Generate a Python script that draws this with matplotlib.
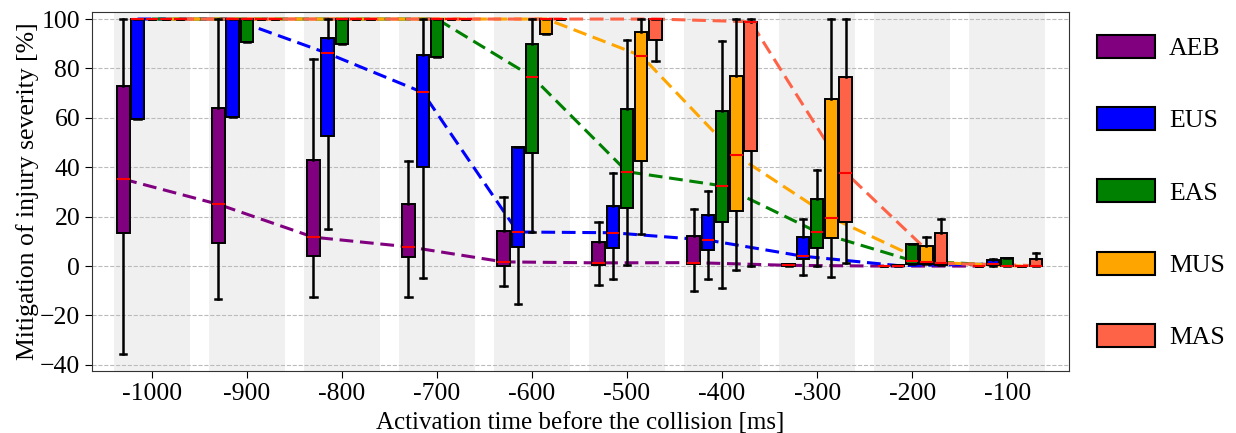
import matplotlib

matplotlib.use("Agg")
import matplotlib.pyplot as plt
from matplotlib.patches import Patch

plt.rcParams["font.family"] = ["Liberation Serif", "DejaVu Serif"]

times = [-1000, -900, -800, -700, -600, -500, -400, -300, -200, -100]
tick_labels = ["-1000", "-900", "-800", "-700", "-600", "-500", "-400", "-300", "-200", "-100"]
systems = ["AEB", "EUS", "EAS", "MUS", "MAS"]

# (whisker low, q1, median, q3, whisker high) per activation time
aeb = [
    (-35.4, 13.2, 35.2, 72.9, 100.0),
    (-13.4, 9.4, 25.0, 63.8, 100.0),
    (-12.6, 4.2, 11.7, 42.8, 83.9),
    (-12.4, 3.8, 7.8, 25.1, 42.6),
    (-8.1, 0.1, 1.7, 14.3, 28.1),
    (-7.8, 0.4, 1.3, 9.8, 17.7),
    (-10.0, 0.8, 1.4, 12.1, 23.0),
    (0.0, 0.0, 0.3, 1.0, 1.0),
    (0.0, 0.0, 0.0, 0.0, 0.0),
    (0.0, 0.0, 0.0, 0.0, 0.0),
]
eus = [
    (59.4, 59.4, 100.0, 100.0, 100.0),
    (60.2, 60.2, 100.0, 100.0, 100.0),
    (15.1, 52.8, 86.1, 92.3, 100.0),
    (-5.0, 40.0, 70.3, 85.3, 100.0),
    (-15.5, 7.8, 13.8, 48.3, 48.3),
    (-5.3, 7.4, 13.5, 24.4, 37.8),
    (-5.3, 6.4, 10.5, 20.5, 30.5),
    (-3.6, 2.8, 4.0, 11.6, 19.2),
    (0.0, 0.0, 0.2, 0.6, 0.6),
    (0.0, 0.3, 0.8, 2.4, 3.0),
]
eas = [
    (100.0, 100.0, 100.0, 100.0, 100.0),
    (90.8, 90.8, 100.0, 100.0, 100.0),
    (90.0, 90.0, 100.0, 100.0, 100.0),
    (84.6, 84.6, 100.0, 100.0, 100.0),
    (13.9, 45.6, 76.7, 89.7, 100.0),
    (0.4, 23.6, 38.2, 63.6, 91.4),
    (-8.8, 17.7, 32.5, 62.8, 91.0),
    (0.1, 7.4, 13.8, 27.1, 38.9),
    (1.0, 1.0, 2.2, 8.9, 8.9),
    (0.0, 0.0, 0.2, 3.1, 3.1),
]
mus = [
    (100.0, 100.0, 100.0, 100.0, 100.0),
    (100.0, 100.0, 100.0, 100.0, 100.0),
    (100.0, 100.0, 100.0, 100.0, 100.0),
    (100.0, 100.0, 100.0, 100.0, 100.0),
    (93.9, 93.9, 100.0, 100.0, 100.0),
    (12.8, 42.5, 85.1, 94.9, 100.0),
    (-1.6, 22.3, 44.8, 76.9, 100.0),
    (-4.3, 11.2, 19.6, 67.6, 100.0),
    (0.8, 0.8, 1.6, 8.2, 11.9),
    (0.0, 0.0, 0.0, 0.0, 0.0),
]
mas = [
    (100.0, 100.0, 100.0, 100.0, 100.0),
    (100.0, 100.0, 100.0, 100.0, 100.0),
    (100.0, 100.0, 100.0, 100.0, 100.0),
    (100.0, 100.0, 100.0, 100.0, 100.0),
    (100.0, 100.0, 100.0, 100.0, 100.0),
    (83.1, 91.5, 100.0, 100.0, 100.0),
    (0.1, 46.6, 98.9, 98.9, 100.0),
    (1.1, 17.7, 37.8, 76.4, 100.0),
    (0.5, 0.5, 1.1, 13.2, 18.9),
    (0.0, 0.0, 0.2, 2.7, 5.4),
]

colors = ["purple", "blue", "green", "orange", "tomato"]
offsets = [-30, -15, 0, 15, 30]
box_width = 13
fs = 18.5

fig = plt.figure(figsize=(12.36, 4.33), dpi=100)
ax = fig.add_axes([0.0744, 0.143, 0.7905, 0.829])

for t in times:
    ax.axvspan(t - 40, t + 40, color="#f0f0f0", zorder=0, lw=0)

for series, color, off in zip([aeb, eus, eas, mus, mas], colors, offsets):
    pos = [t + off for t in times]
    stats = [
        {"whislo": lo, "q1": q1, "med": med, "q3": q3, "whishi": hi}
        for lo, q1, med, q3, hi in series
    ]
    ax.plot(pos, [s[2] for s in series], color=color, lw=2.2, zorder=2,
            linestyle=(0, (4.5, 2.2)))
    ax.bxp(
        stats,
        positions=pos,
        widths=box_width,
        showfliers=False,
        patch_artist=True,
        manage_ticks=False,
        boxprops=dict(facecolor=color, edgecolor="black", lw=1.4),
        medianprops=dict(color="red", lw=1.5),
        whiskerprops=dict(color="black", lw=1.8),
        capprops=dict(color="black", lw=1.8),
        zorder=3,
    )

ax.set_xlim(-1063, -35)
ax.set_ylim(-42.5, 102.8)
ax.set_xticks(times)
ax.set_xticklabels(tick_labels)
ax.set_yticks(range(-40, 101, 20))
ax.tick_params(labelsize=fs, length=5)
ax.grid(axis="y", linestyle="--", color="#bbbbbb", lw=0.8, zorder=1)
ax.set_axisbelow(True)
ax.set_xlabel("Activation time before the collision [ms]", fontsize=18, labelpad=5)
ax.set_ylabel("Mitigation of injury severity [%]", fontsize=fs, labelpad=1)
for sp in ax.spines.values():
    sp.set_color("#333333")

handles = [Patch(facecolor=c, edgecolor="black", lw=1.5) for c in colors]
fig.legend(
    handles,
    systems,
    loc="upper left",
    bbox_to_anchor=(0.8875, 0.92),
    frameon=False,
    fontsize=fs,
    borderpad=0,
    borderaxespad=0,
    handlelength=2.25,
    handleheight=1.0,
    labelspacing=1.83,
    handletextpad=0.55,
)

fig.savefig("out.png", dpi=100)
